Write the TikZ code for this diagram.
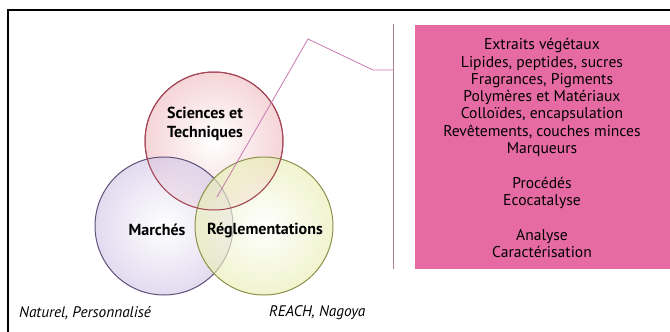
\documentclass[tikz,border=0pt]{standalone}
\usepackage{fontspec}
\setmainfont{PT Sans}
\begin{document}
\begin{tikzpicture}[x=1pt,y=-1pt,
  frameline/.style={line width=1.4pt,black},
  linkline/.style={line width=0.8pt,draw={rgb,255:red,200;green,120;blue,175}},
  sepline/.style={line width=1pt,draw={rgb,255:red,170;green,130;blue,150}},
  venn/.style={circle,minimum size=138pt,inner sep=0pt,line width=1pt,fill opacity=0.65},
  vlabel/.style={font=\bfseries\fontsize{16}{19}\selectfont,align=center,text=black},
  note/.style={font=\itshape\fontsize{15.3}{17}\selectfont,anchor=west,inner sep=0pt},
  boxtext/.style={font=\fontsize{15.6}{17.3}\selectfont,align=center,text=black}]
\useasboundingbox (0,0) rectangle (670,332);
\definecolor{boxpink}{RGB}{231,107,163}
\definecolor{stpink}{RGB}{240,190,195}
\definecolor{stedge}{RGB}{165,70,85}
\definecolor{mkfill}{RGB}{210,200,232}
\definecolor{mkedge}{RGB}{95,80,120}
\definecolor{rgfill}{RGB}{232,238,180}
\definecolor{rgedge}{RGB}{140,145,75}
% frame
\draw[frameline] (8,332) -- (8,10) -- (670,10);
% box
\node[fill=boxpink,minimum width=260pt,minimum height=244pt,anchor=north west,inner sep=0pt] (box) at (415,25) {};
\node[boxtext] (boxt) at (542,148) {Extraits végétaux\\Lipides, peptides, sucres\\Fragrances, Pigments\\Polymères et Matériaux\\Colloïdes, encapsulation\\Revêtements, couches minces\\Marqueurs\\[17.3pt]Procédés\\Ecocatalyse\\[17.3pt]Analyse\\Caractérisation};
% circles
\node[venn,draw=stedge,shading=radial,inner color=white,outer color=stpink] (st) at (214,141) {};
\node[venn,draw=mkedge,shading=radial,inner color=white,outer color=mkfill] (mk) at (164,226) {};
\node[venn,draw=rgedge,shading=radial,inner color=white,outer color=rgfill] (rg) at (264,226) {};
\draw[stedge,line width=1pt] (st) circle (69pt);
\node[vlabel] (stl) at (205,124) {Sciences et\\Techniques};
\node[vlabel] (mkl) at (157,230) {Marchés};
\node[vlabel] (rgl) at (265,230) {Réglementations};
% separator and connector
\coordinate (sept) at (393,24);
\coordinate (sepb) at (393,269);
\draw[sepline] (sept) -- (sepb);
\coordinate (c0) at (217,197);
\coordinate (c1) at (308,39);
\coordinate (c2) at (373,70);
\coordinate (c3) at (393,70);
\draw[linkline] (c0) -- (c1) -- (c2) -- (c3);
% notes
\node[note] (n1) at (19,313) {Naturel, Personnalisé};
\node[note] (n2) at (269,313) {REACH, Nagoya};
\end{tikzpicture}
\end{document}
